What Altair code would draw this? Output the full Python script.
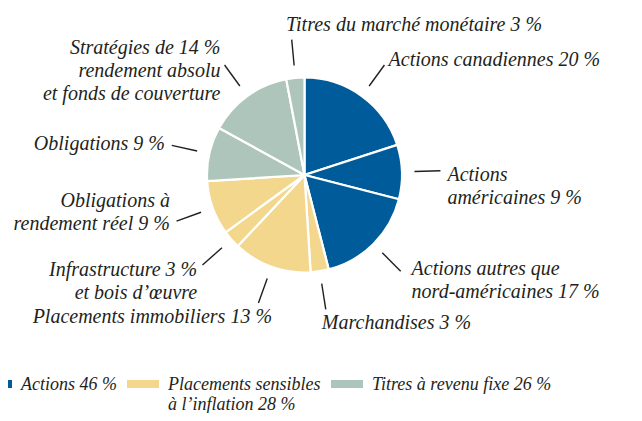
import altair as alt
import pandas as pd

# ---- data ----
names = [
    "Actions canadiennes {v} %",
    "Actions|américaines {v} %",
    "Actions autres que|nord-américaines {v} %",
    "Marchandises {v} %",
    "Placements immobiliers {v} %",
    "Infrastructure {v} %|et bois d’œuvre",
    "Obligations à|rendement réel {v} %",
    "Obligations {v} %",
    "Stratégies de {v} %|rendement absolu|et fonds de couverture",
    "Titres du marché monétaire {v} %",
]
values = [20, 9, 17, 3, 13, 3, 9, 9, 14, 3]
groups = ["Actions", "Actions", "Actions",
          "Placements sensibles|à l’inflation", "Placements sensibles|à l’inflation",
          "Placements sensibles|à l’inflation", "Placements sensibles|à l’inflation",
          "Titres à revenu fixe", "Titres à revenu fixe", "Titres à revenu fixe"]
group_order = ["Actions", "Placements sensibles|à l’inflation", "Titres à revenu fixe"]
group_colors = ["#005B9A", "#F2D78D", "#AEC5BB"]

# ---- table built from the arrays ----
totals = {g: sum(v for v, gg in zip(values, groups) if gg == g) for g in group_order}
legend_names = {g: f"{g} {totals[g]} %" for g in group_order}
rows = []
for i, (n, v, g) in enumerate(zip(names, values, groups)):
    lines = n.split("|")
    numline = [k for k, l in enumerate(lines) if "{v}" in l][0]
    rows.append(dict(idx=i, value=v, group=legend_names[g],
                     label=n.replace("{v}", str(v)),
                     nlines=len(lines), numline=numline))
df = pd.DataFrame(rows)

# ---- layout constants ----
W, H = 626, 405
CX, CY = 296.5, 167.0
R = 97.5
R1, R2, RL = 110, 136, 143
FS, LH = 20, 23
LFS = 18
FONT = "Liberation Serif"
INK = "#231F20"

xs = alt.Scale(domain=[-CX, W - CX], nice=False, zero=False)
ys = alt.Scale(domain=[-CY, H - CY], nice=False, zero=False, reverse=True)

base = alt.Chart(df).transform_joinaggregate(
    total="sum(value)"
).transform_window(
    cum="sum(value)", sort=[alt.SortField("idx")], frame=[None, 0]
).transform_calculate(
    mid="2*PI*(datum.cum - datum.value/2)/datum.total"
).transform_calculate(
    sx="sin(datum.mid)", cy="-cos(datum.mid)"
).transform_calculate(
    x1=f"datum.sx*{R1}", y1=f"datum.cy*{R1}",
    x2=f"datum.sx*{R2}", y2=f"datum.cy*{R2}",
    ax=f"datum.sx*{RL}", ay=f"datum.cy*{RL}",
    vpos="datum.cy < -0.9 ? 'top' : (datum.cy > 0.9 ? 'bottom' : 'side')",
    isleft="datum.sx > -0.2",
).transform_calculate(
    lx="datum.ax + (datum.vpos == 'side' ? (datum.sx > 0.6 && datum.cy > 0.5 ? 6 : 0) : (datum.isleft ? -5 : 16))",
    fc=(f"datum.vpos == 'side' ? datum.ay - (datum.sx > 0.2 ? 0 : datum.numline)*{LH}"
        f" - (datum.cy < -0.5 ? (datum.nlines-1)*{LH}/4 : 0)"
        f" + (datum.sx > 0.2 && datum.nlines > 1 ? (datum.cy > 0.5 ? -7 : 4) : 0) : "
        f"(datum.vpos == 'top' ? datum.ay - 8 - (datum.nlines-1)*{LH} : datum.ay + 7)"),
).transform_calculate(
    ly=f"datum.fc - 0.49*{FS}"
)

# every legend label gets two lines so that all first lines share one baseline
legend_expr = "split(datum.label + (indexof(datum.label, '|') < 0 ? '|' : ''), '|')"

pie = alt.Chart(df).mark_arc(outerRadius=R, stroke="white", strokeWidth=2.2).encode(
    theta=alt.Theta("value:Q", stack=True),
    order=alt.Order("idx:Q", sort="ascending"),
    color=alt.Color(
        "group:N",
        scale=alt.Scale(domain=[legend_names[g] for g in group_order], range=group_colors),
        legend=alt.Legend(
            title=None, orient="none", direction="horizontal",
            legendX=-28, legendY=352,
            symbolType="M-1,0.25H1V0.75H-1Z", symbolSize=1024,
            symbolStrokeWidth=0, labelOffset=9, columnPadding=10,
            labelFont=FONT, labelFontStyle="italic", labelFontSize=LFS,
            labelBaseline="top",
            labelColor=INK, labelExpr=legend_expr, labelLimit=400,
        ),
    ),
    x=alt.value(CX),
    y=alt.value(CY),
)

ticks = base.mark_rule(color=INK, strokeWidth=1.4).encode(
    x=alt.X("x1:Q", scale=xs, axis=None),
    y=alt.Y("y1:Q", scale=ys, axis=None),
    x2="x2:Q",
    y2="y2:Q",
)

text_props = dict(font=FONT, fontStyle="italic", fontSize=FS, color=INK,
                  baseline="top", lineBreak="|", lineHeight=LH)

labels_left = base.transform_filter("datum.isleft").mark_text(align="left", **text_props).encode(
    x=alt.X("lx:Q", scale=xs, axis=None),
    y=alt.Y("ly:Q", scale=ys, axis=None),
    text="label:N",
)
labels_right = base.transform_filter("!datum.isleft").mark_text(align="right", **text_props).encode(
    x=alt.X("lx:Q", scale=xs, axis=None),
    y=alt.Y("ly:Q", scale=ys, axis=None),
    text="label:N",
)

chart = alt.layer(pie, ticks, labels_left, labels_right).properties(
    width=W, height=H, padding=0, autosize=alt.AutoSizeParams(type="none")
).configure_view(stroke=None)

chart.save("out.html", embed_options={"renderer": "svg", "actions": False})
